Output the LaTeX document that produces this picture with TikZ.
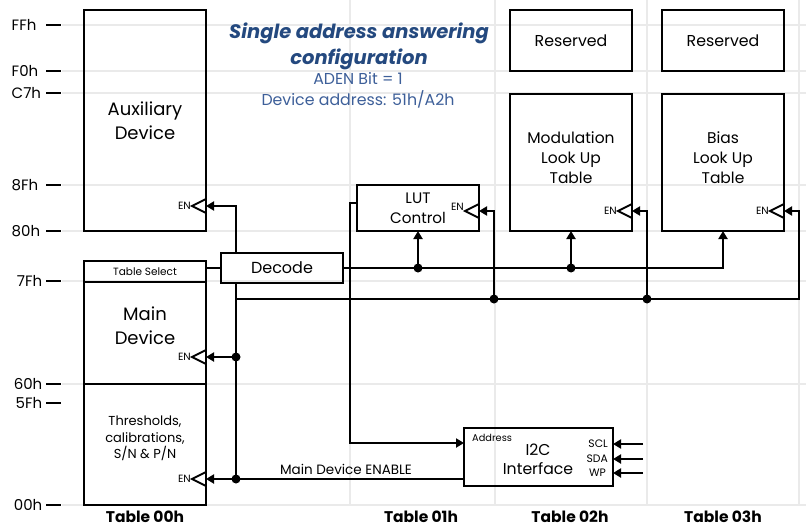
\documentclass[tikz,border=0pt]{standalone}
\usepackage{fontspec}
\setmainfont{Poppins}
\usetikzlibrary{arrows.meta,calc}
\definecolor{gridc}{HTML}{EAEAEA}
\definecolor{titlec}{HTML}{24497F}
\definecolor{subc}{HTML}{3D5F99}
\newcommand\fsz[2]{\fontsize{#1}{#2}\selectfont}
\newcommand\ENm[3]{\draw[entri] (#1,#2-7) -- (#1-14,#2) -- (#1,#2+7); \node[en] (#3) at (#1-15,#2) {EN};}
\begin{document}
\begin{tikzpicture}[x=1pt,y=-1pt,
  box/.style={draw=black, line width=2pt, inner sep=0pt, outer sep=0pt, align=center},
  wire/.style={line width=2pt},
  arr/.style={wire, -{Triangle[length=8pt,width=9pt]}},
  dot/.style={circle, fill=black, inner sep=0pt, minimum size=9pt},
  gridl/.style={draw=gridc, line width=2pt},
  tickl/.style={line width=2pt},
  axl/.style={font=\fsz{15}{17}, inner sep=0pt},
  tbl/.style={font=\bfseries\fsz{15.5}{17}, inner sep=0pt},
  en/.style={font=\fsz{10.5}{12}, inner sep=0pt, anchor=east},
  entri/.style={line width=2pt, line join=miter},
  txt/.style={align=center, inner sep=0pt}]

\useasboundingbox (0,0) rectangle (806,527);
\fill[white] (0,0) rectangle (806,527);

% grid
\foreach \y in {25,71,93,185,231,281,384,505} \draw[gridl] (62,\y) -- (806,\y);
\foreach \x in {350,495,647,799} \draw[gridl] (\x,0) -- (\x,505);

% axis ticks and labels
\foreach \y in {25,71,93,185,231,281,384,403,505} \draw[tickl] (46,\y) -- (61,\y);
\node[axl, anchor=west] (lFF) at (11.5,25) {FFh};
\node[axl, anchor=west] (lF0) at (11.5,71) {F0h};
\node[axl, anchor=west] (lC7) at (11.5,93) {C7h};
\node[axl, anchor=west] (l8F) at (11.5,185) {8Fh};
\node[axl, anchor=west] (l80) at (11.5,231) {80h};
\node[axl, anchor=east] (l7F) at (42.5,281) {7Fh};
\node[axl, anchor=east] (l60) at (42.5,384) {60h};
\node[axl, anchor=east] (l5F) at (42.5,403) {5Fh};
\node[axl, anchor=east] (l00) at (42.5,505) {00h};

% table labels
\node[tbl] (t0) at (145,517) {Table 00h};
\node[tbl] (t1) at (421,517) {Table 01h};
\node[tbl] (t2) at (570,517) {Table 02h};
\node[tbl] (t3) at (723,517) {Table 03h};

% title
\node[txt, text=titlec, font=\bfseries\itshape\fsz{19.5}{26}] (title) at (359,46) {Single address answering\\configuration};
\node[txt, text=subc, font=\fsz{15.8}{21}] (sub) at (358,90.5) {ADEN Bit = 1\\Device address: 51h/A2h};

% boxes
\node[box, minimum width=122pt, minimum height=221pt, font=\fsz{18}{24}] (aux) at (145,120.5) {Auxiliary\\Device};
\node[box, minimum width=122pt, minimum height=21pt, font=\fsz{10.5}{12}] (tsel) at (145,271.5) {Table Select};
\node[box, minimum width=122pt, minimum height=102pt] (main) at (145,333) {};
\node[txt, font=\fsz{18}{24}] (maint) at (145,326) {Main\\Device};
\node[box, minimum width=122pt, minimum height=121pt] (thr) at (145,444.5) {};
\node[txt, font=\fsz{13}{16.5}] (thrt) at (145,438.5) {Thresholds,\\calibrations,\\S/N \& P/N};
\node[box, minimum width=122pt, minimum height=30pt, font=\fsz{16}{18}] (dec) at (282,268) {Decode};
\node[box, minimum width=122pt, minimum height=46pt, font=\fsz{15.2}{20}] (lut) at (418,208) {LUT\\Control};
\node[box, minimum width=122pt, minimum height=61pt, font=\fsz{15.8}{18}] (res2) at (571,40.5) {Reserved};
\node[box, minimum width=122pt, minimum height=137pt] (mod) at (571,162.5) {};
\node[txt, font=\fsz{15.5}{20}] (modt) at (571,158) {Modulation\\Look Up\\Table};
\node[box, minimum width=122pt, minimum height=61pt, font=\fsz{15.8}{18}] (res3) at (723,40.5) {Reserved};
\node[box, minimum width=122pt, minimum height=137pt] (bias) at (723,162.5) {};
\node[txt, font=\fsz{15.5}{20}] (biast) at (723,158) {Bias\\Look Up\\Table};
\node[box, minimum width=149pt, minimum height=58pt] (i2c) at (538.5,457) {};
\node[txt, font=\fsz{15.7}{19}] (i2ct) at (538,459.5) {I2C\\Interface};
\node[inner sep=0pt, font=\fsz{9.8}{11}, anchor=west] (addr) at (472,438) {Address};
\node[inner sep=0pt, font=\fsz{10.8}{12}, anchor=east] (scl) at (608,444) {SCL};
\node[inner sep=0pt, font=\fsz{10.8}{12}, anchor=east] (sda) at (608,459) {SDA};
\node[inner sep=0pt, font=\fsz{10.8}{12}, anchor=east] (wp) at (606,473) {WP};

% enable marks
\ENm{206}{206}{enA}
\ENm{206}{357}{enM}
\ENm{206}{479}{enT}
\draw[entri] (479,204) -- (465,211) -- (479,218);
\node[en] (enL) at (464,207) {EN};
\ENm{632}{211}{enMod}
\ENm{784}{211}{enB}

\coordinate (auxEN) at (206,206);
\coordinate (mainEN) at (206,357);
\coordinate (thrEN) at (206,479);
\coordinate (lutEN) at (479,211);
\coordinate (modEN) at (632,211);
\coordinate (biasEN) at (784,211);
\coordinate (bx) at (236,0);
\coordinate (by) at (0,299);
\coordinate (bR) at (799,0);
\coordinate (l1) at (494,0);
\coordinate (m1) at (647,0);
\coordinate (ax) at (350,0);
\coordinate (addrIn) at (464,443);
\coordinate (lutOut) at (357,203);
\coordinate (sclIn) at (643,444);
\coordinate (sdaIn) at (643,459);
\coordinate (wpIn) at (643,473);

% connectors
\draw[arr] (dec.north -| bx) |- (auxEN);
\draw[wire] (tsel.east |- dec.west) -- (dec.west);
\draw[arr] (dec.east) -| (bias.south);
\draw[arr] (dec.east -| lut.south) -- (lut.south);
\node[dot] (j1) at (dec.east -| lut.south) {};
\draw[arr] (dec.east -| mod.south) -- (mod.south);
\node[dot] (j2) at (dec.east -| mod.south) {};

\draw[wire] (dec.south -| bx) -- (bx |- thrEN);
\draw[arr] (bx |- mainEN) -- (mainEN);
\node[dot] (j3) at (bx |- mainEN) {};
\draw[arr] (i2c.west |- thrEN) -- (thrEN);
\node[dot] (j4) at (bx |- thrEN) {};
\node[inner sep=0pt, anchor=south, font=\fsz{13.5}{15}] (mde) at (346,475) {Main Device ENABLE};

\draw[arr] (bx |- by) -| (bR |- biasEN) -- (biasEN);
\draw[arr] (l1 |- by) |- (lutEN);
\node[dot] (j5) at (l1 |- by) {};
\draw[arr] (m1 |- by) |- (modEN);
\node[dot] (j6) at (m1 |- by) {};

\draw[arr] (lutOut) -| (ax |- addrIn) -- (addrIn);
\draw[arr] (sclIn) -- (i2c.east |- sclIn);
\draw[arr] (sdaIn) -- (i2c.east |- sdaIn);
\draw[arr] (wpIn) -- (i2c.east |- wpIn);
\end{tikzpicture}
\end{document}
